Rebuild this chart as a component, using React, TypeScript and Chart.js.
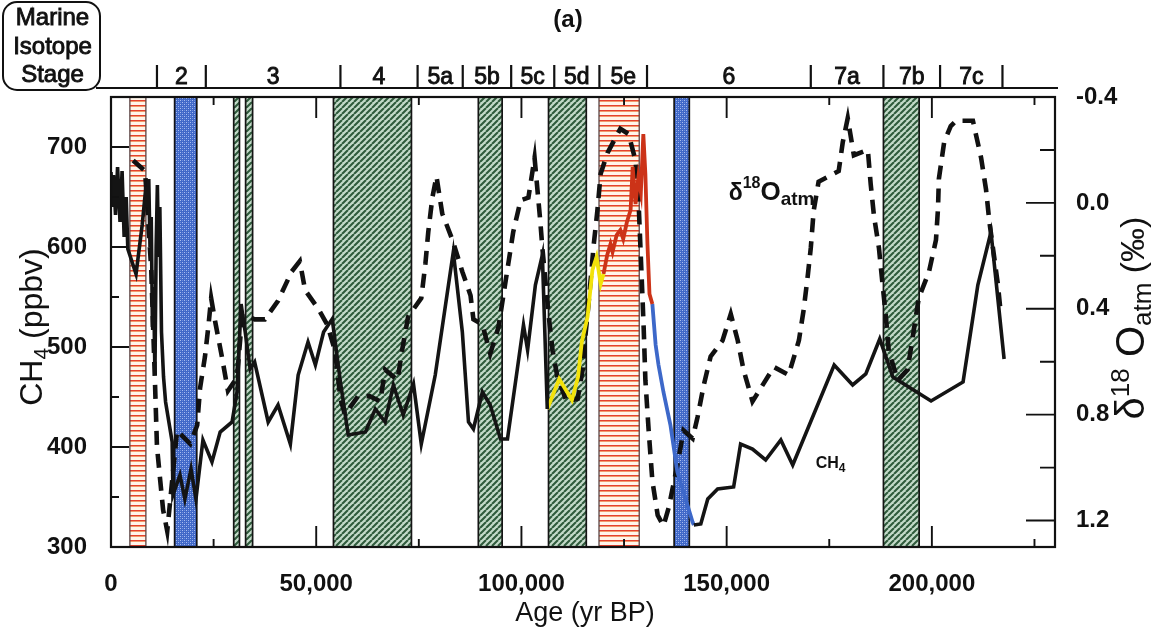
import React, { useEffect, useRef } from "react";
import { Chart, registerables } from "chart.js";

Chart.register(...registerables);

const FONT = "'Liberation Sans', Arial, Helvetica, sans-serif";

// ---------- axes ----------
const ageMin = 0;
const ageMax = 230000;
const ageTickLabels = [0, 50000, 100000, 150000, 200000];
const ch4Min = 300;
const ch4Max = 750;
const ch4TickLabels = [300, 400, 500, 600, 700];
const d18Min = -0.4;
const d18Max = 1.3;
const d18TickLabels = [-0.4, 0.0, 0.4, 0.8, 1.2];

// ---------- CH4 (ppbv), black record ----------
const ch4YoungAges = [0, 300, 600, 1100, 1600, 2200, 2700, 3200, 3700, 4100, 4900, 6100, 7600, 8500, 8900, 9200, 9500, 9800, 10100, 10400, 10700, 11000, 11300, 11600, 11900, 12300, 12800, 13300, 14900, 15100, 16800, 18000, 19500, 20700, 22400, 24600, 26600, 29500, 30700, 31700, 32700, 33900, 35000, 38300, 40700, 43700, 45600, 48000, 49800, 51800, 53900, 55900, 57800, 62000, 64400, 66800, 68800, 71200, 73700, 75600, 79000, 83400, 85600, 87100, 88300, 90500, 92400, 94900, 96600, 99000, 100500, 101500, 103400, 105100, 106300];
const ch4YoungValues = [675, 640, 672, 632, 680, 625, 676, 610, 650, 598, 588, 573, 622, 660, 640, 668, 600, 630, 520, 560, 472, 600, 662, 590, 640, 515, 470, 445, 405, 352, 372, 348, 378, 348, 407, 385, 415, 425, 455, 543, 515, 478, 485, 425, 442, 403, 472, 505, 482, 515, 528, 465, 412, 415, 438, 425, 462, 432, 463, 403, 472, 595, 515, 425, 418, 455, 442, 408, 408, 478, 522, 497, 562, 592, 438];
const ch4OldAges = [142000, 143700, 145400, 147800, 151700, 153400, 156300, 159500, 163200, 166100, 176200, 180700, 183900, 187300, 190500, 199800, 207600, 211200, 214400, 217600];
const ch4OldValues = [322, 323, 348, 358, 360, 403, 398, 387, 407, 382, 482, 462, 473, 508, 470, 446, 465, 562, 615, 488];

// ---------- CH4 high-resolution segments ----------
const ch4YellowAges = [106300, 109200, 112300, 113800, 114700, 116100, 117300, 118300, 119300, 120000];
const ch4YellowValues = [438, 468, 447, 470, 505, 530, 577, 590, 563, 573];
const ch4RedAges = [120000, 120900, 121700, 122200, 123200, 124100, 124800, 125700, 126600, 127100, 127800, 128500, 129100, 129700, 130200, 130700, 131200, 131900];
const ch4RedValues = [573, 592, 603, 595, 612, 617, 608, 625, 637, 680, 643, 670, 655, 713, 673, 603, 553, 543];
const ch4BlueAges = [131900, 132700, 133400, 134600, 136300, 138000, 140000, 141700, 142000];
const ch4BlueValues = [543, 502, 482, 455, 422, 375, 348, 325, 322];

// ---------- d18O atm (permil) ----------
const d18Ages = [5400, 8300, 9800, 10700, 11200, 12000, 12700, 13700, 16100, 19300, 21000, 21700, 22900, 23700, 24400, 25400, 27000, 28500, 30700, 32000, 35000, 37500, 40700, 44000, 46000, 47300, 50500, 52700, 54600, 55900, 57000, 60200, 63000, 65600, 66800, 69800, 71000, 72400, 75600, 76600, 77300, 78300, 79300, 80700, 83200, 85600, 87600, 88300, 90500, 92400, 94400, 95600, 96800, 98000, 99800, 101700, 103200, 104600, 105100, 106600, 107600, 108800, 111000, 113700, 114900, 115600, 116300, 117600, 118500, 119300, 121000, 124100, 126100, 127800, 128500, 129000, 129500, 129800, 130200, 131000, 131900, 133200, 134600, 135900, 138000, 139500, 141700, 142900, 144400, 146100, 149000, 151000, 152700, 154100, 156300, 158300, 161500, 165100, 167600, 168800, 169800, 170500, 171200, 172400, 177300, 178300, 179500, 181000, 184400, 185100, 185900, 187100, 188000, 188800, 189500, 191700, 194100, 195600, 196800, 199300, 201000, 201500, 201700, 203000, 204600, 205900, 210000, 212000, 213200, 214000, 216100, 216800];
const d18Values = [-0.16, -0.12, 0.25, 0.67, 0.92, 1.05, 1.16, 1.24, 0.86, 0.91, 0.84, 0.70, 0.58, 0.47, 0.36, 0.45, 0.58, 0.71, 0.66, 0.42, 0.44, 0.44, 0.37, 0.26, 0.22, 0.33, 0.40, 0.46, 0.56, 0.74, 0.80, 0.73, 0.73, 0.75, 0.63, 0.67, 0.55, 0.43, 0.36, 0.23, 0.11, -0.02, -0.10, 0.04, 0.14, 0.26, 0.35, 0.44, 0.46, 0.57, 0.47, 0.35, 0.23, 0.11, -0.01, -0.02, -0.17, 0.07, 0.17, 0.42, 0.56, 0.66, 0.75, 0.74, 0.63, 0.50, 0.39, 0.16, 0.03, -0.11, -0.19, -0.28, -0.26, -0.16, -0.02, 0.17, 0.36, 0.48, 0.67, 0.86, 1.05, 1.18, 1.22, 1.15, 0.99, 0.86, 0.89, 0.81, 0.69, 0.58, 0.52, 0.42, 0.52, 0.63, 0.75, 0.70, 0.62, 0.65, 0.52, 0.40, 0.27, 0.17, 0.03, -0.08, -0.12, -0.23, -0.32, -0.18, -0.20, -0.07, 0.05, 0.17, 0.31, 0.43, 0.56, 0.67, 0.63, 0.48, 0.36, 0.26, 0.14, 0.02, -0.09, -0.23, -0.29, -0.31, -0.31, -0.17, -0.05, 0.07, 0.31, 0.42];

// ---------- shaded intervals ----------
const bandStarts = [4600, 15500, 29900, 32800, 54200, 89500, 106600, 118900, 137200, 188200];
const bandEnds = [8500, 20900, 31300, 34500, 73200, 95300, 115800, 128700, 140900, 196900];
const bandKinds = ["red", "blue", "green", "green", "green", "green", "green", "red", "blue", "green"];

// ---------- marine isotope stages ----------
const stageBounds = [11200, 23100, 55900, 74700, 85700, 97500, 108000, 119000, 130600, 170500, 188200, 202000, 217200];
const stageNames = ["2", "3", "4", "5a", "5b", "5c", "5d", "5e", "6", "7a", "7b", "7c"];

// ---------- annotations (data coordinates) ----------
const d18LabelAt = { age: 150500, d18: -0.01 };
const ch4LabelAt = { age: 171700, ch4: 379 };

const toXY = (ages: number[], vals: number[]) => ages.map((a, i) => ({ x: a, y: vals[i] }));

type Part = { t: string; size: number; bold?: boolean; dy?: number };

function runWidth(ctx: any, parts: Part[]) {
  let w = 0;
  for (const p of parts) {
    ctx.font = `${p.bold ? "bold " : ""}${p.size}px ${FONT}`;
    w += ctx.measureText(p.t).width;
  }
  return w;
}

function drawRun(ctx: any, parts: Part[], x: number, y: number, stroke = 0) {
  let cx = x;
  for (const p of parts) {
    ctx.font = `${p.bold ? "bold " : ""}${p.size}px ${FONT}`;
    ctx.fillText(p.t, cx, y + (p.dy || 0));
    if (stroke > 0) {
      ctx.lineWidth = stroke;
      ctx.strokeText(p.t, cx, y + (p.dy || 0));
    }
    cx += ctx.measureText(p.t).width;
  }
}

function makePatterns(ctx: any) {
  const green = document.createElement("canvas");
  green.width = 6;
  green.height = 6;
  const g = green.getContext("2d")!;
  g.fillStyle = "#c3dac9";
  g.fillRect(0, 0, 6, 6);
  g.strokeStyle = "#2f5b3c";
  g.lineWidth = 2.1;
  g.beginPath();
  for (const k of [-6, 0, 6]) {
    g.moveTo(k, 6);
    g.lineTo(k + 6, 0);
  }
  g.stroke();

  const blue = document.createElement("canvas");
  blue.width = 4;
  blue.height = 4;
  const b = blue.getContext("2d")!;
  b.fillStyle = "#4068c8";
  b.fillRect(0, 0, 4, 4);
  b.fillStyle = "#a9bdf0";
  b.fillRect(0, 0, 1, 1);
  b.fillRect(2, 2, 1, 1);
  b.fillStyle = "#6f8fdc";
  b.fillRect(2, 0, 1, 1);
  b.fillRect(0, 2, 1, 1);

  const red = document.createElement("canvas");
  red.width = 2;
  red.height = 5;
  const r = red.getContext("2d")!;
  r.fillStyle = "#fff5ea";
  r.fillRect(0, 0, 2, 5);
  r.fillStyle = "#e4412f";
  r.fillRect(0, 0, 2, 1);
  r.fillStyle = "#f29a6c";
  r.fillRect(0, 1, 2, 1);

  return {
    green: ctx.createPattern(green, "repeat"),
    blue: ctx.createPattern(blue, "repeat"),
    red: ctx.createPattern(red, "repeat"),
  } as any;
}

const paleoPlugin = {
  id: "paleoDecor",
  beforeDatasetsDraw(chart: any) {
    const { ctx, chartArea: a, scales } = chart;
    const xs = scales.x;
    if (!chart.$patterns) chart.$patterns = makePatterns(ctx);
    const pats = chart.$patterns;
    ctx.save();
    ctx.beginPath();
    ctx.rect(a.left, a.top, a.right - a.left, a.bottom - a.top);
    ctx.clip();
    bandStarts.forEach((s, i) => {
      const x0 = xs.getPixelForValue(s);
      const x1 = xs.getPixelForValue(bandEnds[i]);
      const kind = bandKinds[i];
      ctx.fillStyle = pats[kind];
      ctx.fillRect(x0, a.top, x1 - x0, a.bottom - a.top);
      ctx.strokeStyle = kind === "red" ? "#5a4444" : "#151515";
      ctx.lineWidth = kind === "red" ? 1.3 : 1.7;
      ctx.beginPath();
      ctx.moveTo(x0, a.top);
      ctx.lineTo(x0, a.bottom);
      ctx.moveTo(x1, a.top);
      ctx.lineTo(x1, a.bottom);
      ctx.stroke();
    });
    ctx.restore();
  },
  afterDatasetsDraw(chart: any) {
    const { ctx, chartArea: a, scales } = chart;
    const xs = scales.x;
    const yl = scales.y;
    const yr = scales.y2;
    ctx.save();
    ctx.strokeStyle = "#111";
    ctx.lineWidth = 2.2;
    ctx.strokeRect(a.left, a.top, a.right - a.left, a.bottom - a.top);
    ctx.lineWidth = 1.9;
    ctx.beginPath();
    for (let v = 25000; v < ageMax; v += 25000) {
      const px = xs.getPixelForValue(v);
      const len = v % 50000 === 0 ? 21 : 8;
      ctx.moveTo(px, a.bottom);
      ctx.lineTo(px, a.bottom - len);
      ctx.moveTo(px, a.top);
      ctx.lineTo(px, a.top + len);
    }
    for (let v = ch4Min + 50; v < ch4Max; v += 50) {
      const py = yl.getPixelForValue(v);
      const len = v % 100 === 0 ? 18 : 8;
      ctx.moveTo(a.left, py);
      ctx.lineTo(a.left + len, py);
    }
    for (let i = 1; i <= 8; i++) {
      const v = d18Min + i * 0.2;
      const py = yr.getPixelForValue(v);
      const len = i % 2 === 0 ? 29 : 15;
      ctx.moveTo(a.right, py);
      ctx.lineTo(a.right - len, py);
    }
    ctx.stroke();

    // annotations inside the plot
    ctx.fillStyle = "#111";
    ctx.strokeStyle = "#111";
    ctx.textAlign = "left";
    ctx.textBaseline = "alphabetic";
    drawRun(
      ctx,
      [
        { t: "δ", size: 23, bold: true },
        { t: "18", size: 16, bold: true, dy: -12 },
        { t: "O", size: 26, bold: true },
        { t: "atm", size: 19, bold: true, dy: 5 },
      ],
      xs.getPixelForValue(d18LabelAt.age),
      yr.getPixelForValue(d18LabelAt.d18)
    );
    drawRun(
      ctx,
      [
        { t: "CH", size: 16, bold: true },
        { t: "4", size: 12, bold: true, dy: 4 },
      ],
      xs.getPixelForValue(ch4LabelAt.age),
      yl.getPixelForValue(ch4LabelAt.ch4)
    );
    ctx.restore();
  },
  afterDraw(chart: any) {
    const { ctx, chartArea: a, scales } = chart;
    const xs = scales.x;
    ctx.save();
    ctx.fillStyle = "#111";
    ctx.strokeStyle = "#111";
    ctx.textBaseline = "alphabetic";
    ctx.textAlign = "left";

    // stage box
    const bx = 3, by = 2, bw = 97, bh = 88, rr = 14;
    ctx.lineWidth = 2;
    ctx.beginPath();
    ctx.moveTo(bx + rr, by);
    ctx.arcTo(bx + bw, by, bx + bw, by + bh, rr);
    ctx.arcTo(bx + bw, by + bh, bx, by + bh, rr);
    ctx.arcTo(bx, by + bh, bx, by, rr);
    ctx.arcTo(bx, by, bx + bw, by, rr);
    ctx.closePath();
    ctx.stroke();
    const boxLines = ["Marine", "Isotope", "Stage"];
    const boxBase = [25, 54, 82];
    boxLines.forEach((t, i) => {
      const parts = [{ t, size: 24 }];
      const w = runWidth(ctx, parts);
      drawRun(ctx, parts, bx + bw / 2 - w / 2 + 1, boxBase[i], 0.9);
    });

    // stage line, ticks and names
    const lineY = 88;
    ctx.lineWidth = 2.2;
    ctx.beginPath();
    ctx.moveTo(bx + bw - 4, lineY);
    ctx.lineTo(xs.getPixelForValue(ageMax) + 3, lineY);
    ctx.stroke();
    ctx.lineWidth = 2.2;
    ctx.beginPath();
    stageBounds.forEach((s) => {
      const px = xs.getPixelForValue(s);
      ctx.moveTo(px, 65);
      ctx.lineTo(px, lineY);
    });
    ctx.stroke();
    stageNames.forEach((n, i) => {
      const mid = (xs.getPixelForValue(stageBounds[i]) + xs.getPixelForValue(stageBounds[i + 1])) / 2;
      const parts = [{ t: n, size: 23 }];
      const w = runWidth(ctx, parts);
      drawRun(ctx, parts, mid - w / 2, 84, 0.9);
    });

    // panel letter
    {
      const parts = [{ t: "(a)", size: 24, bold: true }];
      const w = runWidth(ctx, parts);
      drawRun(ctx, parts, 568 - w / 2, 27);
    }

    // x title
    {
      const parts = [{ t: "Age (yr BP)", size: 27 }];
      const w = runWidth(ctx, parts);
      drawRun(ctx, parts, (a.left + a.right) / 2 - w / 2 + 2, 621);
    }

    // left title (rotated)
    {
      const parts: Part[] = [
        { t: "CH", size: 32 },
        { t: "4", size: 21, dy: 6 },
        { t: " (ppbv)", size: 32 },
      ];
      const w = runWidth(ctx, parts);
      ctx.save();
      ctx.translate(30, 327);
      ctx.rotate(-Math.PI / 2);
      drawRun(ctx, parts, -w / 2, 12);
      ctx.restore();
    }

    // right title (rotated)
    {
      const parts: Part[] = [
        { t: "δ", size: 40 },
        { t: "18", size: 26, dy: -15 },
        { t: " O", size: 40 },
        { t: "atm", size: 26, dy: 7 },
        { t: " (‰)", size: 34 },
      ];
      const w = runWidth(ctx, parts);
      ctx.save();
      ctx.translate(1129, 318);
      ctx.rotate(-Math.PI / 2);
      drawRun(ctx, parts, -w / 2, 15);
      ctx.restore();
    }
    ctx.restore();
  },
};

export default function App() {
  const canvasRef = useRef<HTMLCanvasElement | null>(null);

  useEffect(() => {
    const canvas = canvasRef.current;
    if (!canvas) return;
    const lineBase = {
      pointRadius: 0,
      pointHoverRadius: 0,
      tension: 0,
      fill: false,
      borderJoinStyle: "miter",
    };
    const tickFont = { family: FONT, size: 24, weight: "bold" };
    const chart = new Chart(canvas, {
      type: "line",
      data: {
        datasets: [
          { ...lineBase, label: "CH4", data: toXY(ch4YoungAges, ch4YoungValues), yAxisID: "y", borderColor: "#141414", borderWidth: 3.6 },
          { ...lineBase, label: "CH4 older", data: toXY(ch4OldAges, ch4OldValues), yAxisID: "y", borderColor: "#141414", borderWidth: 3.6 },
          { ...lineBase, label: "CH4 high-res (yellow)", data: toXY(ch4YellowAges, ch4YellowValues), yAxisID: "y", borderColor: "#f2e20a", borderWidth: 3.8 },
          { ...lineBase, label: "CH4 high-res (red)", data: toXY(ch4RedAges, ch4RedValues), yAxisID: "y", borderColor: "#cc3318", borderWidth: 3.8 },
          { ...lineBase, label: "CH4 high-res (blue)", data: toXY(ch4BlueAges, ch4BlueValues), yAxisID: "y", borderColor: "#3d68c9", borderWidth: 3.8 },
          { ...lineBase, label: "d18O atm", data: toXY(d18Ages, d18Values), yAxisID: "y2", borderColor: "#111", borderWidth: 4.6, borderDash: [14, 9], borderCapStyle: "butt" },
        ],
      } as any,
      options: {
        animation: false,
        responsive: false,
        devicePixelRatio: 1,
        events: [],
        layout: { padding: { top: 97, left: 0, right: 0, bottom: 0 } },
        plugins: {
          legend: { display: false },
          tooltip: { enabled: false },
          title: { display: false },
        },
        scales: {
          x: {
            type: "linear",
            position: "bottom",
            min: ageMin,
            max: ageMax,
            grid: { display: false },
            border: { display: false },
            ticks: {
              font: tickFont,
              color: "#111",
              padding: 15,
              maxRotation: 0,
              autoSkip: false,
              callback: (v: any) => String(Math.round(Number(v))).replace(/\B(?=(\d{3})+(?!\d))/g, ","),
            },
            afterBuildTicks: (s: any) => {
              s.ticks = ageTickLabels.map((v) => ({ value: v }));
            },
            afterFit: (s: any) => {
              s.height = 87;
            },
          },
          y: {
            type: "linear",
            position: "left",
            min: ch4Min,
            max: ch4Max,
            grid: { display: false },
            border: { display: false },
            ticks: { font: tickFont, color: "#111", padding: 16, autoSkip: false },
            afterBuildTicks: (s: any) => {
              s.ticks = ch4TickLabels.map((v) => ({ value: v }));
            },
            afterFit: (s: any) => {
              s.width = 111;
            },
          },
          y2: {
            type: "linear",
            position: "right",
            min: d18Min,
            max: d18Max,
            reverse: true,
            grid: { display: false },
            border: { display: false },
            ticks: {
              font: tickFont,
              color: "#111",
              padding: 13,
              autoSkip: false,
              callback: (v: any) => Number(v).toFixed(1),
            },
            afterBuildTicks: (s: any) => {
              s.ticks = d18TickLabels.map((v) => ({ value: v }));
            },
            afterFit: (s: any) => {
              s.width = 104;
            },
          },
        },
      } as any,
      plugins: [paleoPlugin as any],
    });
    return () => chart.destroy();
  }, []);

  return (
    <div style={{ position: "fixed", left: 0, top: 0, width: 1159, height: 634, background: "#fff" }}>
      <canvas ref={canvasRef} width={1159} height={634} style={{ display: "block", width: "1159px", height: "634px" }} />
    </div>
  );
}
